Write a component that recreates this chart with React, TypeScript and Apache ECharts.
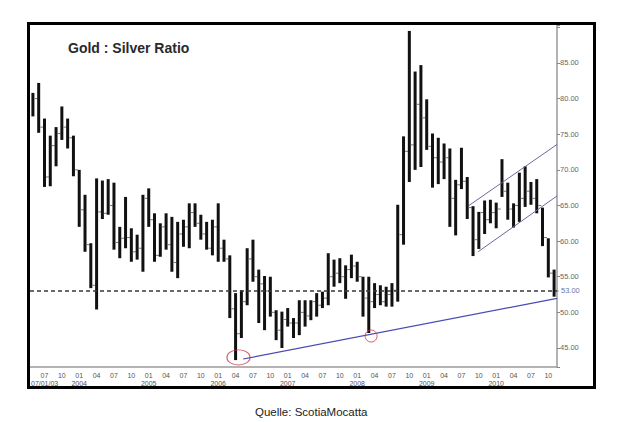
import React, { useEffect, useRef } from 'react';
import * as echarts from 'echarts';

const months = [
  '2003-05', '2003-06', '2003-07', '2003-08', '2003-09', '2003-10', '2003-11', '2003-12',
  '2004-01', '2004-02', '2004-03', '2004-04', '2004-05', '2004-06', '2004-07', '2004-08', '2004-09', '2004-10', '2004-11', '2004-12',
  '2005-01', '2005-02', '2005-03', '2005-04', '2005-05', '2005-06', '2005-07', '2005-08', '2005-09', '2005-10', '2005-11', '2005-12',
  '2006-01', '2006-02', '2006-03', '2006-04', '2006-05', '2006-06', '2006-07', '2006-08', '2006-09', '2006-10', '2006-11', '2006-12',
  '2007-01', '2007-02', '2007-03', '2007-04', '2007-05', '2007-06', '2007-07', '2007-08', '2007-09', '2007-10', '2007-11', '2007-12',
  '2008-01', '2008-02', '2008-03', '2008-04', '2008-05', '2008-06', '2008-07', '2008-08', '2008-09', '2008-10', '2008-11', '2008-12',
  '2009-01', '2009-02', '2009-03', '2009-04', '2009-05', '2009-06', '2009-07', '2009-08', '2009-09', '2009-10', '2009-11', '2009-12',
  '2010-01', '2010-02', '2010-03', '2010-04', '2010-05', '2010-06', '2010-07', '2010-08', '2010-09', '2010-10', '2010-11',
];

const highs = [
  80.8, 82.2, 77.2, 74.8, 76.0, 78.9, 77.2, 74.8,
  70.0, 66.5, 59.7, 68.8, 68.5, 68.7, 68.2, 62.0, 66.2, 61.8, 60.9, 66.5,
  67.4, 63.9, 62.5, 63.9, 63.4, 62.7, 63.0, 65.3, 65.3, 63.7, 62.7, 63.0,
  65.3, 60.2, 58.0, 52.7, 53.1, 59.0, 60.2, 56.0, 55.1, 55.0, 50.3, 50.1,
  50.6, 49.2, 51.7, 51.7, 51.7, 52.7, 52.9, 58.3, 57.4, 57.6, 56.6, 58.1,
  57.1, 55.0, 55.0, 54.1, 53.8, 53.6, 54.1, 65.1, 74.7, 89.5, 83.8, 84.7,
  79.9, 75.1, 74.5, 73.7, 73.0, 68.6, 73.1, 69.0, 64.9, 64.1, 65.7, 65.8,
  65.4, 71.5, 68.2, 65.3, 69.6, 70.5, 68.3, 68.7, 64.7, 60.4, 56.0,
];

const lows = [
  77.5, 75.2, 67.6, 67.7, 70.5, 74.2, 73.0, 69.1,
  62.0, 58.5, 53.4, 50.4, 63.1, 63.7, 58.8, 57.6, 59.0, 57.1, 57.4, 55.7,
  62.0, 57.1, 57.8, 58.8, 55.7, 54.8, 59.2, 59.0, 62.0, 60.2, 58.8, 58.0,
  57.1, 57.1, 49.2, 43.3, 46.4, 51.0, 54.3, 48.5, 47.5, 49.4, 46.1, 45.0,
  48.0, 46.4, 46.8, 48.0, 48.9, 49.4, 50.6, 51.0, 53.6, 54.1, 51.9, 54.8,
  54.3, 49.4, 47.1, 50.6, 51.0, 50.8, 50.8, 51.5, 59.5, 68.3, 70.0, 70.4,
  72.8, 67.5, 68.0, 68.7, 62.0, 60.8, 67.3, 63.1, 57.9, 58.9, 61.0, 62.5,
  61.8, 66.2, 63.0, 61.9, 62.7, 64.8, 65.1, 63.9, 59.3, 54.9, 52.2,
];

const closes = [
  80.0, 76.0, 69.0, 73.4, 75.1, 76.0, 74.5, 70.0,
  64.4, 59.5, 53.8, 64.1, 63.9, 65.0, 59.8, 60.4, 60.5, 58.5, 59.0, 66.0,
  63.0, 58.0, 62.0, 59.5, 57.0, 61.0, 62.0, 64.0, 62.5, 61.0, 59.0, 62.0,
  59.0, 57.5, 50.5, 47.0, 51.5, 57.5, 55.0, 54.0, 53.0, 50.0, 47.5, 49.0,
  48.5, 48.5, 50.0, 49.5, 51.5, 51.0, 52.0, 55.0, 55.5, 55.0, 56.0, 56.5,
  55.0, 52.0, 51.5, 52.5, 51.5, 52.5, 53.1, 60.9, 72.6, 73.5, 79.2, 77.3,
  73.3, 71.7, 71.1, 71.7, 66.0, 67.9, 68.4, 64.7, 60.2, 64.0, 63.0, 64.0,
  64.5, 67.0, 64.5, 65.0, 66.0, 67.0, 66.0, 65.0, 60.5, 55.5, 53.0,
];

const refLevel = 53;
const supportLine = [[36.3, 43.45], [90.5, 51.97]];
const channelUpper = [[75.3, 65.0], [90.5, 73.56]];
const channelLower = [[76.9, 58.52], [90.5, 66.33]];
const lowMarks = [[35.5, 43.67], [58.4, 46.68]];
const lowMarkSizes = [[23, 15], [12, 12]];

const FONT = 'Liberation Sans, Arial, sans-serif';

export default function App() {
  const ref = useRef<HTMLDivElement>(null);

  useEffect(() => {
    if (!ref.current) return;
    const chart = echarts.init(ref.current, undefined, { renderer: 'svg' });
    const quarterMonths = ['01', '04', '07', '10'];

    const option = {
      animation: false,
      backgroundColor: '#ffffff',
      textStyle: { fontFamily: FONT },
      title: [
        {
          text: 'Gold : Silver Ratio',
          left: 63,
          top: 36,
          padding: 5,
          textStyle: { fontSize: 14, fontWeight: 'bold', color: '#2a2a2a', fontFamily: FONT },
        },
        {
          text: 'Quelle: ScotiaMocatta',
          left: 250,
          top: 401,
          padding: 5,
          textStyle: { fontSize: 11.5, fontWeight: 'normal', color: '#222', fontFamily: FONT },
        },
      ],
      grid: { left: 30, right: 69, top: 25, bottom: 55, containLabel: false },
      xAxis: [
        {
          type: 'category',
          data: months,
          boundaryGap: true,
          position: 'bottom',
          axisLine: { show: true, onZero: false, lineStyle: { color: '#9a9a9a', width: 1.5 } },
          axisTick: { show: false },
          splitLine: { show: false },
          axisLabel: {
            interval: (_i: number, v: string) => quarterMonths.includes(v.slice(5)),
            formatter: (v: string) => v.slice(5),
            fontSize: 7,
            color: '#555',
            margin: 5,
          },
        },
        {
          type: 'category',
          data: months,
          boundaryGap: true,
          position: 'bottom',
          axisLine: { show: false, onZero: false },
          axisTick: { show: false },
          splitLine: { show: false },
          axisLabel: {
            interval: (_i: number, v: string) => v.slice(5) === '01',
            formatter: (v: string) => v.slice(0, 4),
            fontSize: 7,
            color: '#555',
            margin: 13,
          },
        },
        {
          type: 'value',
          min: -0.5,
          max: 90.5,
          show: false,
          axisLine: { onZero: false },
        },
      ],
      yAxis: {
        type: 'value',
        position: 'right',
        min: 42.33,
        max: 90.33,
        splitNumber: 10,
        splitLine: { show: false },
        axisLine: { show: true, onZero: false, lineStyle: { color: '#9a9a9a', width: 1.5 } },
        axisTick: { show: true, length: 3, lineStyle: { color: '#888' } },
        axisLabel: {
          formatter: (v: number) => (v < 44 || v > 86 ? '' : v.toFixed(2)),
          fontSize: 7.5,
          color: '#666',
          margin: 3,
        },
      },
      series: [
        {
          type: 'custom',
          xAxisIndex: 0,
          yAxisIndex: 0,
          encode: { x: 0, y: [1, 2, 3] },
          data: highs.map((h, i) => [i, h, lows[i], closes[i]]),
          renderItem: (_params: any, api: any) => {
            const i = api.value(0);
            const hi = api.coord([i, api.value(1)]);
            const lo = api.coord([i, api.value(2)]);
            const cl = api.coord([i, api.value(3)]);
            return {
              type: 'group',
              children: [
                {
                  type: 'rect',
                  shape: { x: hi[0] - 1.5, y: hi[1], width: 3, height: lo[1] - hi[1] },
                  style: { fill: '#111' },
                },
                {
                  type: 'line',
                  shape: { x1: cl[0] + 1.5, y1: cl[1], x2: cl[0] + 4.5, y2: cl[1] },
                  style: { stroke: '#777', lineWidth: 1 },
                },
              ],
            };
          },
          markLine: {
            silent: true,
            symbol: 'none',
            data: [{ yAxis: refLevel }],
            lineStyle: { color: '#3a3a3a', width: 1.5, type: [4, 3] },
            label: {
              show: true,
              position: 'end',
              formatter: refLevel.toFixed(2),
              fontSize: 7.5,
              color: '#6a74a8',
              distance: 4,
            },
          },
          z: 2,
        },
        {
          type: 'line',
          xAxisIndex: 2,
          yAxisIndex: 0,
          data: supportLine,
          symbol: 'none',
          lineStyle: { color: '#4a4ab4', width: 1.2 },
          z: 3,
        },
        {
          type: 'line',
          xAxisIndex: 2,
          yAxisIndex: 0,
          data: channelUpper,
          symbol: 'none',
          lineStyle: { color: '#6a6a9c', width: 1 },
          z: 3,
        },
        {
          type: 'line',
          xAxisIndex: 2,
          yAxisIndex: 0,
          data: channelLower,
          symbol: 'none',
          lineStyle: { color: '#6a6a9c', width: 1 },
          z: 3,
        },
        {
          type: 'scatter',
          xAxisIndex: 2,
          yAxisIndex: 0,
          data: lowMarks.map((p, i) => ({ value: p, symbolSize: lowMarkSizes[i] })),
          symbol: 'circle',
          itemStyle: { color: 'rgba(0,0,0,0)', borderColor: '#c83848', borderWidth: 1 },
          z: 4,
        },
      ],
      graphic: [
        {
          type: 'text',
          x: 31,
          y: 383,
          style: { text: '07/01/03', fontSize: 7, fill: '#555', fontFamily: FONT, verticalAlign: 'middle' },
          z: 50,
        },
        {
          type: 'rect',
          shape: { x: 28.5, y: 23.5, width: 566, height: 364 },
          style: { fill: 'none', stroke: '#000', lineWidth: 3 },
          z: 100,
        },
      ],
    };

    chart.setOption(option as any);
    return () => chart.dispose();
  }, []);

  return (
    <div
      ref={ref}
      style={{ position: 'absolute', left: 0, top: 0, width: 626, height: 422 }}
    />
  );
}
